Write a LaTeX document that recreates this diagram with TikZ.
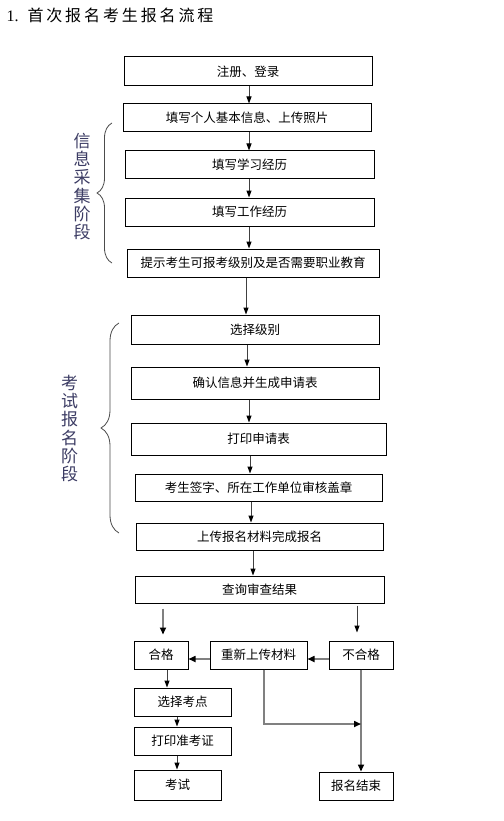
\documentclass[tikz,border=0pt]{standalone}
\usepackage{fontspec}
\setmainfont{Liberation Serif}
\newfontfamily\cjk{Noto Sans CJK SC}
\newfontfamily\cjktitle[LetterSpace=18]{Noto Sans CJK SC}
\usetikzlibrary{arrows.meta,decorations.pathreplacing}
\definecolor{labelblue}{RGB}{60,60,100}
\definecolor{linegray}{RGB}{128,128,128}

\begin{document}
\begin{tikzpicture}[x=1pt,y=-1pt,
  every node/.style={draw,rectangle,line width=1pt,inner sep=0pt,font=\cjk\fontsize{12.5}{14}\selectfont},
  arr/.style={black!75,line width=1pt,-{Triangle[length=7pt,width=5pt,color=black,fill=black]}},
  garr/.style={linegray,line width=1.6pt,-{Triangle[length=7pt,width=6pt,color=black,fill=black]}},
  stage/.style={draw=none,align=center,text=labelblue,font=\cjk\fontsize{17}{18.3}\selectfont},
  bracket/.style={decorate,black!70,line width=0.8pt}]
\useasboundingbox (0,0) rectangle (503,821);
\fill[white] (0,0) rectangle (503,821);
\node[draw=none,anchor=west,font=\fontsize{16}{18}\selectfont] (title) at (6,15) {1.\hspace{9pt}{\cjktitle 首次报名考生报名流程}};
% information stage
\node[minimum width=248,minimum height=29] (reg) at (248,71.5) {注册、登录};
\node[minimum width=248,minimum height=28] (info) at (247,118) {填写个人基本信息、上传照片};
\node[minimum width=249,minimum height=28] (study) at (249.5,165) {填写学习经历};
\node[minimum width=249,minimum height=28] (work) at (249.5,212) {填写工作经历};
\node[minimum width=252,minimum height=28] (hint) at (253,263) {提示考生可报考级别及是否需要职业教育};
% application stage
\node[minimum width=248,minimum height=29] (level) at (255,329.5) {选择级别};
\node[minimum width=248,minimum height=32] (confirm) at (255,383) {确认信息并生成申请表};
\node[minimum width=255,minimum height=32] (print) at (258.5,439) {打印申请表};
\node[minimum width=247,minimum height=27] (sign) at (258.5,487.5) {考生签字、所在工作单位审核盖章};
\node[minimum width=247,minimum height=27] (upload) at (259.5,536.5) {上传报名材料完成报名};
\node[minimum width=249,minimum height=27] (query) at (259.5,589.5) {查询审查结果};
% result
\node[minimum width=54,minimum height=28] (pass) at (161,655) {合格};
\node[minimum width=97,minimum height=28] (reup) at (258.5,655) {重新上传材料};
\node[minimum width=64,minimum height=28] (fail) at (361,655) {不合格};
\node[minimum width=97,minimum height=28] (site) at (182.5,702) {选择考点};
\node[minimum width=97,minimum height=28] (ticket) at (182.5,741) {打印准考证};
\node[minimum width=87,minimum height=30] (exam) at (177.5,785) {考试};
\node[minimum width=74,minimum height=28] (done) at (356,786) {报名结束};
% stage labels
\node[stage] (collect) at (82,186.5) {信\\息\\采\\集\\阶\\段};
\node[stage] (apply) at (69.5,428.5) {考\\试\\报\\名\\阶\\段};
\draw[bracket,decoration={brace,amplitude=15pt}] (112,263) -- (112,123);
\draw[bracket,decoration={brace,amplitude=18pt}] (119,533) -- (119,323);
% arrows
\draw[arr] (reg.south -| 249,0) -- (info.north -| 249,0); \draw[arr] (info.south -| 249,0) -- (study.north -| 249,0);
\draw[arr] (study.south -| 249,0) -- (work.north -| 249,0); \draw[arr] (work.south -| 249,0) -- (hint.north -| 249,0);
\draw[arr] (hint.south -| 246,0) -- (level.north -| 246,0); \draw[arr] (level.south -| 247,0) -- (confirm.north -| 247,0);
\draw[arr] (confirm.south -| 249,0) -- (print.north -| 249,0); \draw[arr] (print.south -| 250,0) -- (sign.north -| 250,0);
\draw[arr] (sign.south -| 251,0) -- (upload.north -| 251,0); \draw[arr] (upload.south -| 253,0) -- (query.north -| 253,0);
\draw[garr,shorten <=5pt,shorten >=6pt] (query.south -| 163,0) -- (pass.north -| 163,0);
\draw[arr,shorten <=2pt,shorten >=8pt] (query.south -| 357,0) -- (fail.north -| 357,0);
\draw[garr] (fail.west |- 0,659) -- (reup.east |- 0,659); \draw[garr] (reup.west |- 0,659) -- (pass.east |- 0,659);
\draw[arr] (pass.south -| 167,0) -- (site.north -| 167,0); \draw[arr] (site.south -| 177,0) -- (ticket.north -| 177,0);
\draw[arr] (ticket.south -| 177,0) -- (exam.north -| 177,0);
\draw[garr] (fail.south) -- (done.north -| fail.south);
\draw[garr] (reup.south -| 264,0) |- (fail.south |- 0,724);
\end{tikzpicture}
\end{document}
